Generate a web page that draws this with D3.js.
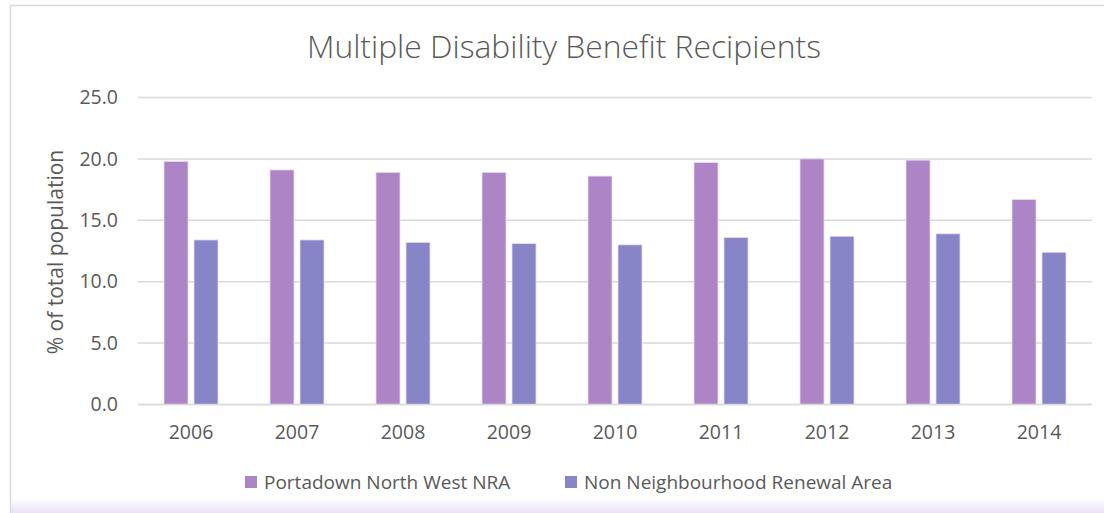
<!DOCTYPE html>
<html><head><meta charset="utf-8">
<script src="https://cdn.jsdelivr.net/npm/d3@7"></script>
<style>
html,body{margin:0;padding:0;background:#fff;}
svg{display:block;}
</style></head>
<body>
<svg id="chart" width="1104" height="513"></svg>
<script>
const years = ["2006","2007","2008","2009","2010","2011","2012","2013","2014"];
const seriesNames = ["Portadown North West NRA","Non Neighbourhood Renewal Area"];
const portadown = [19.8,19.1,18.9,18.9,18.6,19.7,20.0,19.9,16.7];
const nonNRA = [13.4,13.4,13.2,13.1,13.0,13.6,13.7,13.9,12.4];
const yTicks = [0,5,10,15,20,25];
const colors = ["#AD84C6","#8784C7"];

(function(){
const svg = d3.select("#chart");
const font = "'Open Sans', 'Noto Sans', sans-serif";
const W = 1104, H = 513;

const defs = svg.append("defs");
const grad = defs.append("linearGradient").attr("id","bg").attr("x1",0).attr("y1",0).attr("x2",0).attr("y2",1);
grad.append("stop").attr("offset","0").attr("stop-color","#ffffff");
grad.append("stop").attr("offset","1").attr("stop-color","#ebe2f4");
svg.append("rect").attr("x",11).attr("y",498).attr("width",W-11).attr("height",15).attr("fill","url(#bg)");
svg.append("line").attr("x1",10.5).attr("x2",W).attr("y1",5.5).attr("y2",5.5).attr("stroke","#d9d9d9").attr("stroke-width",1.5);
svg.append("line").attr("x1",10.5).attr("x2",10.5).attr("y1",5.5).attr("y2",H).attr("stroke","#d9d9d9").attr("stroke-width",1.5);

const pl = 138, pr = 1092, pt = 97.5, pb = 404.5;
const x = d3.scaleBand().domain(years).range([pl,pr]).padding(0);
const y = d3.scaleLinear().domain([0,25]).range([pb,pt]);

svg.append("g").selectAll("line").data(yTicks).join("line")
  .attr("x1",pl).attr("x2",pr)
  .attr("y1",d=>y(d)).attr("y2",d=>y(d))
  .attr("stroke","#d9d9d9").attr("stroke-width",1.5);

const yAxis = d3.axisLeft(y).tickValues(yTicks).tickFormat(d3.format(".1f")).tickSize(0).tickPadding(0);
const gy = svg.append("g").attr("transform",`translate(118,0)`).call(yAxis);
gy.select(".domain").remove();
gy.selectAll("text").attr("font-family",font).attr("font-size",19.5).attr("fill","#595959");

const xAxis = d3.axisBottom(x).tickSize(0).tickPadding(0);
const gx = svg.append("g").attr("transform",`translate(0,425)`).call(xAxis);
gx.select(".domain").remove();
gx.selectAll("text").attr("font-family",font).attr("font-size",19.5).attr("fill","#595959");

const barW = 24, gap = 6;
const inner = d3.scaleBand().domain([0,1]).range([0, barW*2+gap]).paddingInner(gap/(barW+gap));
const data = [portadown, nonNRA];
data.forEach((vals,si)=>{
  svg.append("g").selectAll("rect").data(years).join("rect")
    .attr("x",d=>x(d)+x.bandwidth()/2-(barW+gap/2)+inner(si))
    .attr("width",inner.bandwidth())
    .attr("y",(d,i)=>y(vals[i]))
    .attr("height",(d,i)=>y(0)-y(vals[i]))
    .attr("fill",colors[si])
    .attr("stroke","#e6dcef").attr("stroke-width",0.8);
});
svg.append("line").attr("x1",pl).attr("x2",pr).attr("y1",y(0)).attr("y2",y(0))
  .attr("stroke","#d9d9d9").attr("stroke-width",1.5);

svg.append("text").attr("x",564).attr("y",58).attr("text-anchor","middle")
  .attr("font-family",font).attr("font-size",31.8).attr("font-weight",300).attr("fill","#595959")
  .text("Multiple Disability Benefit Recipients");

svg.append("text").attr("transform",`translate(63,252) rotate(-90)`).attr("text-anchor","middle")
  .attr("font-family",font).attr("font-size",21).attr("fill","#595959")
  .text("% of total population");

const legX = [245,565];
seriesNames.forEach((n,i)=>{
  svg.append("rect").attr("x",legX[i]).attr("y",476).attr("width",12).attr("height",12).attr("fill",colors[i]);
  svg.append("text").attr("x",legX[i]+19).attr("y",489)
    .attr("font-family",font).attr("font-size",19).attr("fill","#595959").text(n);
});
})();
</script>
</body></html>
